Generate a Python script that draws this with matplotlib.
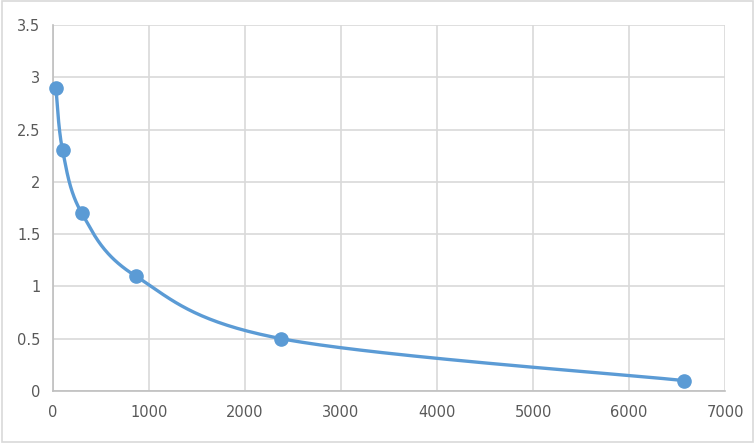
import numpy as np
import matplotlib
matplotlib.use("agg")
import matplotlib.pyplot as plt
from matplotlib.patches import Rectangle

# concentration vs OD readings
conc = [30, 100, 300, 860, 2380, 6570]
od = [2.9, 2.3, 1.7, 1.1, 0.5, 0.1]

xticks = [0, 1000, 2000, 3000, 4000, 5000, 6000, 7000]
yticks = [0, 0.5, 1, 1.5, 2, 2.5, 3, 3.5]

blue = '#5b9bd5'
grid = '#d9d9d9'
textc = '#595959'


def smooth(xs, ys, n=60):
    # bezier smoothing similar to the office "smoothed line"
    px = [xs[0]] + list(xs) + [xs[-1]]
    py = [ys[0]] + list(ys) + [ys[-1]]
    outx, outy = [], []
    t = np.linspace(0, 1, n)
    for i in range(1, len(px) - 2):
        p0 = np.array([px[i], py[i]])
        p3 = np.array([px[i + 1], py[i + 1]])
        c1 = p0 + (np.array([px[i + 1], py[i + 1]]) - np.array([px[i - 1], py[i - 1]])) / 6
        c2 = p3 - (np.array([px[i + 2], py[i + 2]]) - np.array([px[i], py[i]])) / 6
        for tt in t:
            b = ((1 - tt) ** 3 * p0 + 3 * (1 - tt) ** 2 * tt * c1
                 + 3 * (1 - tt) * tt ** 2 * c2 + tt ** 3 * p3)
            outx.append(b[0])
            outy.append(b[1])
    return outx, outy


fig = plt.figure(figsize=(7.55, 4.43), dpi=100)
ax = fig.add_axes([53 / 755, 52 / 443, 672 / 755, 366 / 443])

sx, sy = smooth(conc, od)
ax.plot(sx, sy, color=blue, lw=2.4, solid_capstyle='round', zorder=3)
ax.plot(conc, od, 'o', color=blue, ms=9.5, zorder=4, clip_on=False)

ax.set_xlim(0, 7000)
ax.set_ylim(0, 3.5)
ax.set_xticks(xticks)
ax.set_yticks(yticks)
ax.set_xticklabels([str(v) for v in xticks])
ax.set_yticklabels(['0', '0.5', '1', '1.5', '2', '2.5', '3', '3.5'])
ax.grid(True, color=grid, lw=1.2)
ax.set_axisbelow(True)
for s in ['top', 'right']:
    ax.spines[s].set_visible(False)
ax.spines['left'].set_color('#bfbfbf')
ax.spines['bottom'].set_color('#bfbfbf')
ax.spines['left'].set_linewidth(1.2)
ax.spines['bottom'].set_linewidth(1.2)
ax.tick_params(length=0, labelsize=10.5, labelcolor=textc)
ax.tick_params(axis='x', pad=10)
ax.tick_params(axis='y', pad=9)

# chart border
fig.patches.append(Rectangle((0.002, 0.003), 0.996, 0.994, transform=fig.transFigure,
                             fill=False, edgecolor='#d9d9d9', lw=1.2))

fig.savefig('out.png', dpi=100)
